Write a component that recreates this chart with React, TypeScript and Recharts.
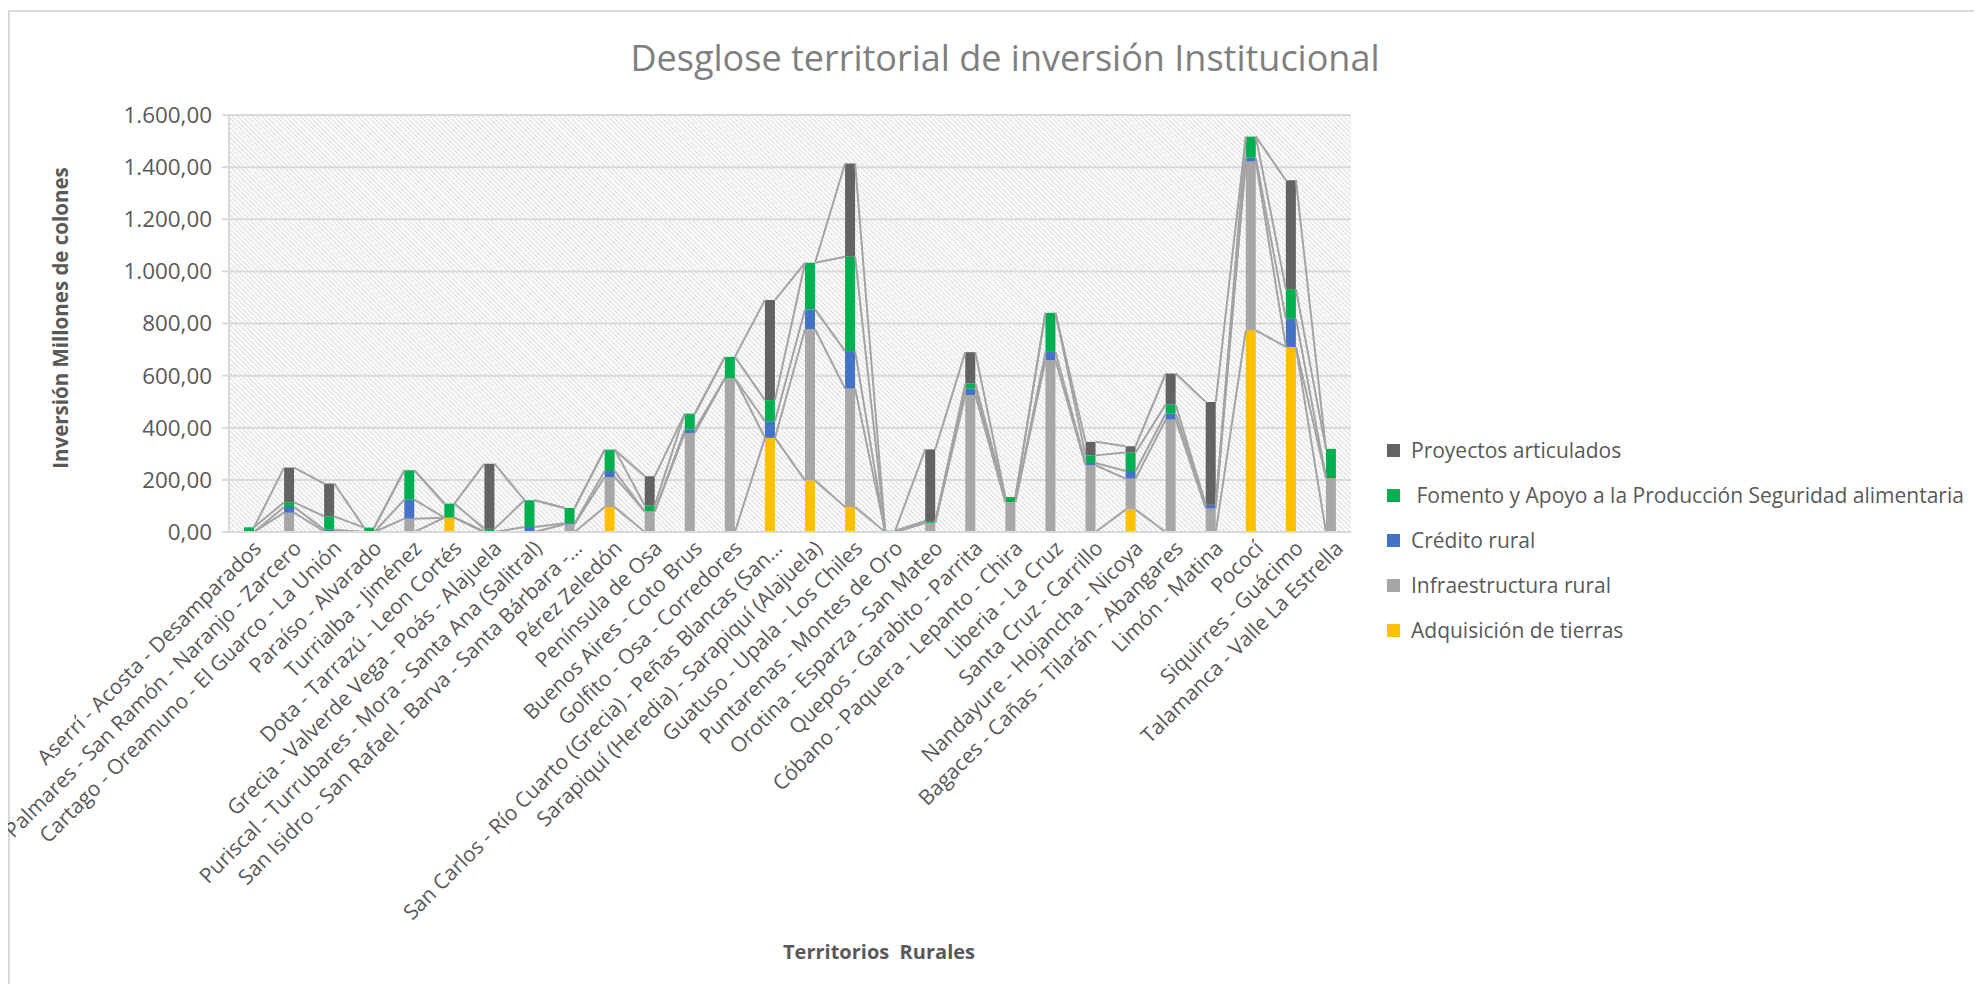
import React from 'react';
import { ComposedChart, Bar, Line, XAxis, YAxis, CartesianGrid } from 'recharts';

const categories = [
  'Aserrí - Acosta - Desamparados',
  'Palmares - San Ramón - Naranjo - Zarcero',
  'Cartago - Oreamuno - El Guarco - La Unión',
  'Paraíso - Alvarado',
  'Turrialba - Jiménez',
  'Dota - Tarrazú - Leon Cortés',
  'Grecia - Valverde Vega - Poás - Alajuela',
  'Puriscal - Turrubares - Mora - Santa Ana (Salitral)',
  'San Isidro - San Rafael - Barva - Santa Bárbara -…',
  'Pérez Zeledón',
  'Península de Osa',
  'Buenos Aires - Coto Brus',
  'Golfito - Osa - Corredores',
  'San Carlos - Río Cuarto (Grecia) - Peñas Blancas (San…',
  'Sarapiquí (Heredia) - Sarapiquí (Alajuela)',
  'Guatuso - Upala - Los Chiles',
  'Puntarenas - Montes de Oro',
  'Orotina - Esparza - San Mateo',
  'Quepos - Garabito - Parrita',
  'Cóbano - Paquera - Lepanto - Chira',
  'Liberia - La Cruz',
  'Santa Cruz - Carrillo',
  'Nandayure - Hojancha - Nicoya',
  'Bagaces - Cañas - Tilarán - Abangares',
  'Limón - Matina',
  'Pococí',
  'Siquirres - Guácimo',
  'Talamanca - Valle La Estrella',
];

const adquisicion = [0, 0, 0, 0, 0, 55, 0, 0, 0, 96, 0, 0, 0, 361, 198, 96, 0, 0, 0, 0, 0, 0, 86, 0, 0, 774, 710, 0];
const infraestructura = [0, 74, 2, 0, 51, 0, 0, 0, 30, 115, 79, 380, 589, 0, 580, 454, 0, 35, 525, 115, 659, 256, 119, 431, 90, 647, 0, 207];
const credito = [0, 22, 7, 0, 73, 0, 0, 19, 4, 23, 0, 13, 0, 64, 76, 144, 0, 0, 25, 0, 32, 9, 29, 23, 15, 15, 108, 4];
const fomento = [18, 18, 51, 17, 113, 54, 12, 103, 58, 82, 23, 61, 83, 81, 179, 362, 5, 7, 20, 19, 150, 29, 71, 35, 0, 81, 114, 108];
const proyectos = [0, 133, 126, 0, 0, 0, 250, 0, 0, 0, 112, 0, 0, 384, 0, 358, 0, 275, 120, 0, 0, 52, 24, 119, 394, 0, 418, 0];

const yTicks = [0, 200, 400, 600, 800, 1000, 1200, 1400, 1600];

const series = [
  { key: 'adq', name: 'Adquisición de tierras', values: adquisicion, color: '#FFC000' },
  { key: 'inf', name: 'Infraestructura rural', values: infraestructura, color: '#A9A7A6' },
  { key: 'cre', name: 'Crédito rural', values: credito, color: '#4472C4' },
  { key: 'fom', name: ' Fomento y Apoyo a la Producción Seguridad alimentaria', values: fomento, color: '#00B050' },
  { key: 'pro', name: 'Proyectos articulados', values: proyectos, color: '#636363' },
];

const data = categories.map((name, i) => {
  const row: any = { name };
  series.forEach((s) => (row[s.key] = s.values[i]));
  return row;
});

// Series lines (Excel style): connect top of each stacked segment to the next bar
const HALF = 0.125; // half bar width in category units
const seriesLineData = series.map((_, si) => {
  const cum = categories.map((__, i) => series.slice(0, si + 1).reduce((a, s) => a + s.values[i], 0));
  const pts: any[] = [];
  for (let i = 0; i < categories.length - 1; i++) {
    pts.push({ x: i + 0.5 + HALF, v: cum[i] });
    pts.push({ x: i + 1.5 - HALF, v: cum[i + 1] });
    pts.push({ x: i + 1.5, v: null });
  }
  return pts;
});

const fmt = (v: number) => {
  const [int, dec] = v.toFixed(2).split('.');
  return int.replace(/\B(?=(\d{3})+(?!\d))/g, '.') + ',' + dec;
};

const FONT = '"Open Sans", sans-serif';
const TEXT = '#595959';

const XTick = (props: any) => {
  const { x, y, payload } = props;
  const ax = x + 8;
  const ay = y + 4;
  return (
    <text
      x={ax}
      y={ay}
      transform={`rotate(-45 ${ax} ${ay})`}
      textAnchor="end"
      dominantBaseline="central"
      fontSize={21}
      fill={TEXT}
      fontFamily={FONT}
    >
      {payload.value}
    </text>
  );
};

export default function App() {
  const legendOrder = [...series].reverse();
  return (
    <div style={{ position: 'relative', width: 1974, height: 976, overflow: 'hidden', fontFamily: FONT, background: '#fff' }}>
      <div
        style={{
          position: 'absolute',
          left: 0,
          top: 2,
          width: 1974,
          height: 974,
          borderTop: '2px solid #d9d9d9',
          borderLeft: '2px solid #d9d9d9',
          boxSizing: 'border-box',
        }}
      />
      <ComposedChart
        width={1966}
        height={976}
        data={data}
        margin={{ top: 107, right: 623, bottom: 0, left: 0 }}
        style={{ fontFamily: FONT }}
      >
        <defs>
          <pattern id="hatch" patternUnits="userSpaceOnUse" width={3.4} height={3.4} patternTransform="rotate(-45)">
            <rect x={0} y={0} width={3.4} height={3.4} fill="#ffffff" />
            <line x1={0.7} y1={0} x2={0.7} y2={3.4} stroke="#dedede" strokeWidth={1.2} />
          </pattern>
        </defs>
        <CartesianGrid
          vertical={false}
          stroke="#d9d9d9"
          strokeWidth={2}
          fill="url(#hatch)"
          fillOpacity={1}
        />
        <XAxis
          xAxisId="cat"
          dataKey="name"
          type="category"
          interval={0}
          height={452}
          tickLine={false}
          axisLine={{ stroke: '#d9d9d9', strokeWidth: 2 }}
          tick={<XTick />}
        />
        <XAxis xAxisId="num" type="number" dataKey="x" domain={[0, categories.length]} hide allowDataOverflow />
        <YAxis
          width={221}
          domain={[0, 1600]}
          ticks={yTicks}
          tickFormatter={fmt}
          axisLine={{ stroke: '#d9d9d9', strokeWidth: 2 }}
          tickLine={{ stroke: '#d9d9d9', strokeWidth: 2 }}
          tickSize={7}
          tickMargin={10}
          tick={{ fill: TEXT, fontSize: 22.4, fontFamily: FONT }}
          interval={0}
        />
        {series.map((s) => (
          <Bar
            key={s.key}
            xAxisId="cat"
            dataKey={s.key}
            name={s.name}
            stackId="a"
            fill={s.color}
            barSize={10}
            isAnimationActive={false}
          />
        ))}
        {series.map((s, si) => (
          <Line
            key={'l' + s.key}
            xAxisId="num"
            data={seriesLineData[si]}
            dataKey="v"
            stroke="#a3a3a3"
            strokeWidth={2}
            dot={false}
            activeDot={false}
            connectNulls={false}
            legendType="none"
            isAnimationActive={false}
          />
        ))}
      </ComposedChart>

      <div
        style={{
          position: 'absolute',
          left: 997,
          top: 49,
          transform: 'translate(-50%, -50%)',
          fontSize: 36,
          color: '#7f7f7f',
          whiteSpace: 'nowrap',
        }}
      >
        Desglose territorial de inversión Institucional
      </div>
      <div
        style={{
          position: 'absolute',
          left: 52,
          top: 310,
          transform: 'translate(-50%, -50%) rotate(-90deg)',
          fontSize: 20.5,
          fontWeight: 700,
          color: TEXT,
          whiteSpace: 'nowrap',
        }}
      >
        Inversión Millones de colones
      </div>
      <div
        style={{
          position: 'absolute',
          left: 871,
          top: 943,
          transform: 'translate(-50%, -50%)',
          fontSize: 20,
          fontWeight: 700,
          color: TEXT,
          whiteSpace: 'pre',
        }}
      >
        {'Territorios  Rurales'}
      </div>
      {legendOrder.map((s, i) => (
        <div
          key={'lg' + s.key}
          style={{
            position: 'absolute',
            left: 1379,
            top: 442 + i * 45,
            transform: 'translateY(-50%)',
            display: 'flex',
            alignItems: 'center',
            fontSize: 21,
            color: TEXT,
            whiteSpace: 'pre',
          }}
        >
          <span style={{ display: 'inline-block', width: 13, height: 13, background: s.color, marginRight: 11 }} />
          <span>{s.name}</span>
        </div>
      ))}
    </div>
  );
}
